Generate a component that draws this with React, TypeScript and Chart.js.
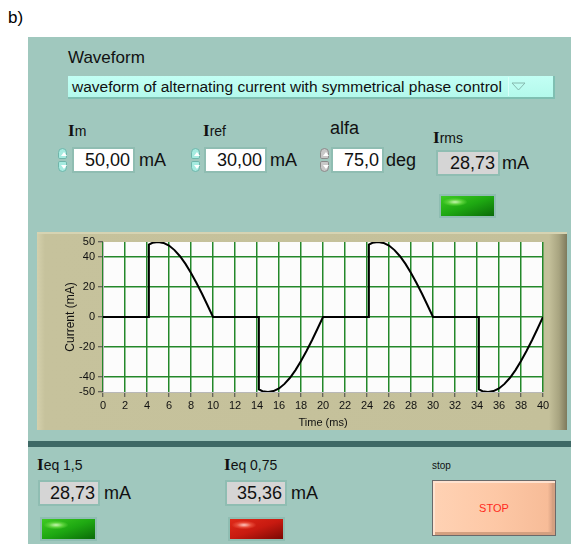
import React, { useEffect, useRef } from "react";
import { Chart, registerables } from "chart.js";
Chart.register(...registerables);

// ---- data ----
const timeMs = [
  0, 4.17, 4.17, 4.5, 5, 5.5, 6, 6.5, 7, 7.5, 8, 8.5, 9, 9.5, 10,
  14.17, 14.17, 14.5, 15, 15.5, 16, 16.5, 17, 17.5, 18, 18.5, 19, 19.5, 20,
  24.17, 24.17, 24.5, 25, 25.5, 26, 26.5, 27, 27.5, 28, 28.5, 29, 29.5, 30,
  34.17, 34.17, 34.5, 35, 35.5, 36, 36.5, 37, 37.5, 38, 38.5, 39, 39.5, 40,
];
const currentMa = [
  0, 0, 48.3, 49.5, 50, 49.4, 47.6, 44.6, 40.5, 35.4, 29.4, 22.7, 15.5, 7.8, 0,
  0, -48.3, -49.5, -50, -49.4, -47.6, -44.6, -40.5, -35.4, -29.4, -22.7, -15.5, -7.8, 0,
  0, 48.3, 49.5, 50, 49.4, 47.6, 44.6, 40.5, 35.4, 29.4, 22.7, 15.5, 7.8, 0,
  0, -48.3, -49.5, -50, -49.4, -47.6, -44.6, -40.5, -35.4, -29.4, -22.7, -15.5, -7.8, 0,
];
const yTicks = [50, 40, 20, 0, -20, -40, -50];
const xTicks = [0, 2, 4, 6, 8, 10, 12, 14, 16, 18, 20, 22, 24, 26, 28, 30, 32, 34, 36, 38, 40];
const xTitle = "Time (ms)";
const yTitle = "Current (mA)";

const waveformLabel = "Waveform";
const waveformChoice = "waveform of alternating current with symmetrical phase control";
const imValue = "50,00";
const irefValue = "30,00";
const alfaValue = "75,0";
const irmsValue = "28,73";
const ieq15Value = "28,73";
const ieq075Value = "35,36";

const FONT = "'Liberation Sans', Arial, sans-serif";
const PANEL = "#a0c8be";

const plotBg = {
  id: "plotBg",
  beforeDraw(chart: any) {
    const { ctx, chartArea } = chart;
    ctx.save();
    ctx.fillStyle = "#fcfcfc";
    ctx.fillRect(chartArea.left, chartArea.top, chartArea.right - chartArea.left, chartArea.bottom - chartArea.top);
    ctx.restore();
  },
};

function WaveChart() {
  const ref = useRef<HTMLCanvasElement | null>(null);
  useEffect(() => {
    if (!ref.current) return;
    const font = { family: FONT, size: 11 };
    const gridColor = (c: any) => (c.tick && (c.tick.value === 50 || c.tick.value === -50) ? "rgba(0,0,0,0)" : "#24882a");
    const chart = new Chart(ref.current, {
      type: "scatter",
      data: {
        datasets: [
          {
            data: timeMs.map((t, i) => ({ x: t, y: currentMa[i] })),
            showLine: true,
            borderColor: "#000",
            borderWidth: 2,
            pointRadius: 0,
            tension: 0,
          },
        ],
      },
      options: {
        animation: false,
        responsive: false,
        maintainAspectRatio: false,
        layout: { padding: { top: 10, right: 24, left: 26, bottom: 0 } },
        plugins: { legend: { display: false }, tooltip: { enabled: false } },
        scales: {
          x: {
            type: "linear",
            min: 0,
            max: 40,
            afterBuildTicks: (s: any) => {
              s.ticks = xTicks.map((v) => ({ value: v }));
            },
            afterFit: (s: any) => {
              s.height = 38;
            },
            grid: { color: "#24882a", tickColor: "#444", tickLength: 5, lineWidth: 1.5, tickWidth: 1 },
            border: { display: true, color: "#b8b8b8", width: 1 },
            ticks: { color: "#111", font, padding: 2, maxRotation: 0, autoSkip: false },
            title: { display: true, text: xTitle, color: "#111", font, padding: { top: 2, bottom: 0 } },
          },
          y: {
            type: "linear",
            min: -50,
            max: 50,
            afterBuildTicks: (s: any) => {
              s.ticks = yTicks.map((v) => ({ value: v }));
            },
            afterFit: (s: any) => {
              s.width = 40;
            },
            grid: { color: gridColor, tickColor: "#444", tickLength: 5, lineWidth: 1.5, tickWidth: 1 },
            border: { display: true, color: "#b8b8b8", width: 1 },
            ticks: { color: "#111", font, padding: 3, autoSkip: false },
            title: { display: true, text: yTitle, color: "#111", font: { family: FONT, size: 12 }, padding: { top: 0, bottom: 2 } },
          },
        },
      },
      plugins: [plotBg],
    } as any);
    return () => chart.destroy();
  }, []);
  return <canvas ref={ref} width={530} height={198} style={{ position: "absolute", left: 0, top: 0, width: 530, height: 198 }} />;
}

const abs = (left: number, top: number, extra: React.CSSProperties = {}): React.CSSProperties => ({
  position: "absolute",
  left,
  top,
  ...extra,
});

function Spinner({ left, top, grey }: { left: number; top: number; grey?: boolean }) {
  const fill = grey ? "#c8c8c8" : "#a6ebe0";
  const edge = grey ? "#8a8a8a" : "#6fb5aa";
  const part = (t: number, up: boolean) => (
    <div
      style={abs(0, t, {
        width: 9,
        height: 11,
        background: fill,
        border: `1px solid ${edge}`,
        borderRadius: up ? "5px 5px 2px 2px" : "2px 2px 5px 5px",
        boxSizing: "border-box",
      })}
    >
      <div
        style={abs(1.5, 3, {
          width: 0,
          height: 0,
          borderLeft: "3px solid transparent",
          borderRight: "3px solid transparent",
          ...(up ? { borderBottom: "4px solid #fff" } : { borderTop: "4px solid #fff" }),
        })}
      />
    </div>
  );
  return (
    <div style={abs(left, top, { width: 9, height: 24 })}>
      {part(0, true)}
      {part(13, false)}
    </div>
  );
}

function NumBox({ left, top, width, value, grey }: { left: number; top: number; width: number; value: string; grey?: boolean }) {
  return (
    <div
      style={abs(left, top, {
        width,
        height: 26,
        background: grey ? "#d5d5d5" : "#ffffff",
        border: "2px solid #8fbdb2",
        boxSizing: "border-box",
        font: `18px ${FONT}`,
        color: "#111",
        textAlign: "right",
        paddingRight: 3,
        lineHeight: "22px",
      })}
    >
      {value}
    </div>
  );
}

function Unit({ left, top, text }: { left: number; top: number; text: string }) {
  return <div style={abs(left, top, { font: `18px ${FONT}`, color: "#111", lineHeight: "26px" })}>{text}</div>;
}

function ILabel({ left, top, sub }: { left: number; top: number; sub: string }) {
  return (
    <div style={abs(left, top, { color: "#111", whiteSpace: "nowrap", lineHeight: "18px" })}>
      <span style={{ font: `bold 17px 'Liberation Serif', 'DejaVu Serif', serif` }}>I</span>
      <span style={{ font: `14px ${FONT}` }}>{sub}</span>
    </div>
  );
}

function Led({ left, top, color }: { left: number; top: number; color: "green" | "red" }) {
  const bg =
    color === "green"
      ? "radial-gradient(ellipse 18px 6px at 14px 6px, #c8f5b0 0%, #5ad23a 40%, transparent 70%), linear-gradient(160deg, #3ecb22 0%, #1ea812 50%, #0a6a08 100%)"
      : "radial-gradient(ellipse 18px 6px at 14px 6px, #ffc8c0 0%, #e84a38 40%, transparent 70%), linear-gradient(160deg, #e02a18 0%, #c81a10 50%, #7a0804 100%)";
  return (
    <div
      style={abs(left, top, {
        width: 57,
        height: 24,
        border: "2px solid #8fbdb2",
        boxSizing: "border-box",
        background: bg,
      })}
    />
  );
}

export default function App() {
  return (
    <div style={{ position: "fixed", left: 0, top: 0, width: 571, height: 544, background: "#fff", overflow: "hidden" }}>
      <div style={abs(8, 8, { font: `17px ${FONT}`, color: "#000" })}>b)</div>
      <div style={abs(28, 37, { width: 543, height: 507, background: PANEL })} />

      <div style={abs(68, 47, { font: `17px ${FONT}`, color: "#111", lineHeight: "22px" })}>{waveformLabel}</div>
      <div
        style={abs(68, 76, {
          width: 487,
          height: 23,
          background: "linear-gradient(#c2fff4, #b4f9ec)",
          borderRight: "2px solid #7fbfb2",
          borderBottom: "2px solid #7fbfb2",
          boxSizing: "border-box",
          font: `15.5px ${FONT}`,
          color: "#111",
          lineHeight: "21px",
          paddingLeft: 4,
          whiteSpace: "nowrap",
        })}
      >
        {waveformChoice}
        <div style={abs(440, 1, { width: 1, height: 19, background: "#d8fff8" })} />
        <svg style={abs(443, 4)} width={16} height={12} viewBox="0 0 16 12">
          <polygon points="1,3 14,3 7.5,10" fill="none" stroke="#86b8ae" strokeWidth={1} />
        </svg>
      </div>

      <ILabel left={68} top={121} sub="m" />
      <Spinner left={58} top={148} />
      <NumBox left={72} top={147} width={63} value={imValue} />
      <Unit left={139} top={147} text="mA" />

      <ILabel left={203} top={121} sub="ref" />
      <Spinner left={191} top={148} />
      <NumBox left={204} top={147} width={63} value={irefValue} />
      <Unit left={270} top={147} text="mA" />

      <div style={abs(330, 118, { font: `18px ${FONT}`, color: "#111", lineHeight: "20px" })}>alfa</div>
      <Spinner left={320} top={148} grey />
      <NumBox left={331} top={147} width={53} value={alfaValue} />
      <Unit left={386} top={147} text="deg" />

      <ILabel left={433} top={128} sub="rms" />
      <NumBox left={436} top={150} width={64} value={irmsValue} grey />
      <Unit left={502} top={150} text="mA" />
      <Led left={439} top={194} color="green" />

      <div
        style={abs(37, 232, {
          width: 530,
          height: 198,
          background:
            "linear-gradient(90deg, #d4d0ac 0px, #c6c29c 8px, #c4c09a 512px, #a8a480 522px, #7e7a5c 530px)",
          boxShadow: "inset 0 2px 0 #d6d3b2",
        })}
      >
        <WaveChart />
      </div>

      <div style={abs(28, 441, { width: 543, height: 6, background: "#3e6966" })} />

      <ILabel left={37} top={455} sub="eq 1,5" />
      <NumBox left={38} top={480} width={62} value={ieq15Value} grey />
      <Unit left={104} top={480} text="mA" />
      <Led left={40} top={517} color="green" />

      <ILabel left={224} top={455} sub="eq 0,75" />
      <NumBox left={225} top={480} width={62} value={ieq075Value} grey />
      <Unit left={291} top={480} text="mA" />
      <Led left={228} top={517} color="red" />

      <div style={abs(432, 460, { font: `10px ${FONT}`, color: "#111" })}>stop</div>
      <div
        style={abs(432, 480, {
          width: 124,
          height: 56,
          background: "linear-gradient(90deg, #ffd2b4 0%, #fdc8a6 50%, #f7bc98 94%, #c99478 100%)",
          border: "1px solid #6a6a6a",
          boxShadow: "inset 2px 2px 0 #ffe2cf, inset -3px -3px 0 #d4a080",
          boxSizing: "border-box",
          font: `11px ${FONT}`,
          color: "#ff2a20",
          textAlign: "center",
          lineHeight: "54px",
        })}
      >
        STOP
      </div>
    </div>
  );
}
